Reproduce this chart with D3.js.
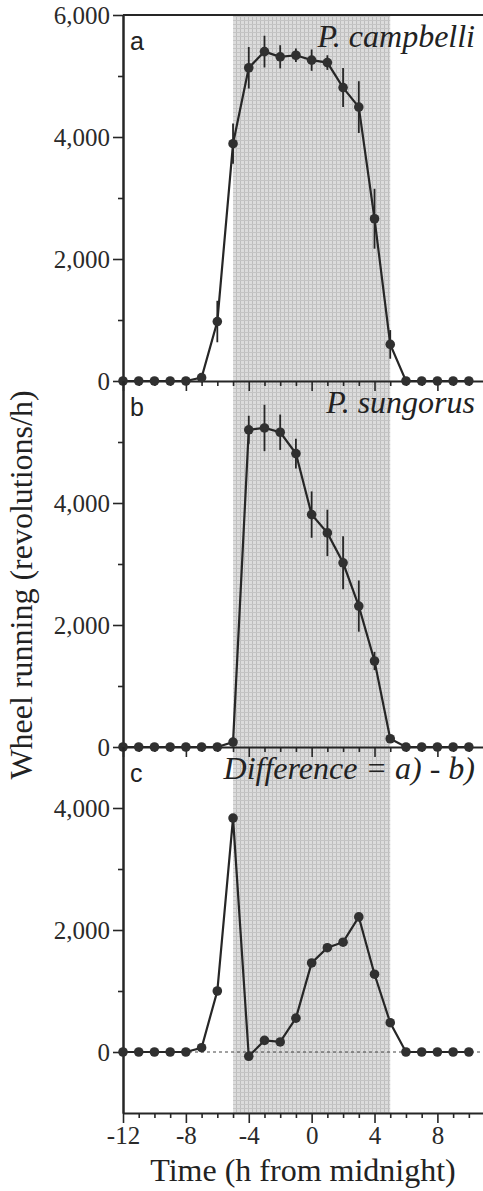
<!DOCTYPE html>
<html>
<head>
<meta charset="utf-8">
<script src="https://cdn.jsdelivr.net/npm/d3@7"></script>
<style>
  body { margin: 0; background: #fff; }
  svg { display: block; }
</style>
</head>
<body>
<svg id="chart"></svg>
<script>
// hours from midnight
const hours = [-12, -11, -10, -9, -8, -7, -6, -5, -4, -3, -2, -1, 0, 1, 2, 3, 4, 5, 6, 7, 8, 9, 10];

// a) P. campbelli
const campbelli = [0, 0, 0, 0, 0, 55, 975, 3890, 5135, 5400, 5315, 5340, 5260, 5220, 4810, 4490, 2660, 600, 0, 0, 0, 0, 0];
const campbelliErr = [0, 0, 0, 0, 0, 40, 340, 330, 340, 260, 190, 110, 175, 120, 320, 425, 490, 235, 0, 0, 0, 0, 0];

// b) P. sungorus
const sungorus = [0, 0, 0, 0, 0, 0, 0, 80, 5200, 5230, 5160, 4810, 3810, 3510, 3020, 2310, 1410, 135, 0, 0, 0, 0, 0];
const sungorusErr = [0, 0, 0, 0, 0, 0, 0, 30, 230, 380, 290, 245, 380, 380, 435, 420, 150, 40, 0, 0, 0, 0, 0];

// c) difference a - b
const difference = [0, 0, 0, 0, 0, 70, 1000, 3835, -70, 190, 165, 555, 1460, 1710, 1800, 2215, 1275, 480, 0, 0, 0, 0, 0];

// x tick labels (bottom panel only)
const xLabels = [-12, -8, -4, 0, 4, 8];

const darkStart = -5, darkEnd = 5;

const panels = [
    { letter: "a", title: "P. campbelli", values: campbelli, errors: campbelliErr, domain: [0, 6000], major: [0, 2000, 4000, 6000], minor: [1000, 3000, 5000] },
    { letter: "b", title: "P. sungorus", values: sungorus, errors: sungorusErr, domain: [0, 6000], major: [0, 2000, 4000], minor: [1000, 3000, 5000] },
    { letter: "c", title: "Difference = a) - b)", values: difference, errors: null, domain: [-1000, 5000], major: [0, 2000, 4000], minor: [1000, 3000] }
];

const width = 483, height = 1191;
const plotTop = 15, panelH = 366;
const plotLeft = 123;
const serif = "'Liberation Serif', 'Times New Roman', serif";

const svg = d3.select("#chart")
    .attr("width", width)
    .attr("height", height);

const x = d3.scaleLinear()
    .domain([-12, 11])
    .range([plotLeft, plotLeft + 23 * 15.72]);

const plotBottom = plotTop + panelH * panels.length;

// crosshatch grey for the dark phase
const defs = svg.append("defs");
const pat = defs.append("pattern")
    .attr("id", "hatch")
    .attr("patternUnits", "userSpaceOnUse")
    .attr("width", 4)
    .attr("height", 4);
pat.append("rect").attr("width", 4).attr("height", 4).attr("fill", "#dcdcdc");
pat.append("rect").attr("x", 0).attr("width", 1).attr("height", 4).attr("fill", "#bdbdbd");
pat.append("rect").attr("y", 0).attr("width", 4).attr("height", 1).attr("fill", "#c4c4c4");

svg.append("rect")
    .attr("x", x(darkStart))
    .attr("y", plotTop)
    .attr("width", x(darkEnd) - x(darkStart))
    .attr("height", plotBottom - plotTop)
    .attr("fill", "url(#hatch)");

const ink = "#262626";

panels.forEach((p, i) => {
    const top = plotTop + panelH * i;
    const y = d3.scaleLinear().domain(p.domain).range([top + panelH, top]);
    const g = svg.append("g");

    if (p.domain[0] < 0) {
        g.append("line")
            .attr("x1", plotLeft).attr("x2", width)
            .attr("y1", y(0)).attr("y2", y(0))
            .attr("stroke", "#444")
            .attr("stroke-width", 1)
            .attr("stroke-dasharray", "3,3");
    }

    // y axis, major and minor ticks
    g.append("g")
        .attr("transform", "translate(" + plotLeft + ",0)")
        .call(d3.axisLeft(y).tickValues(p.major).tickFormat(d3.format(",")).tickSize(10).tickSizeOuter(0).tickPadding(3));
    g.append("g")
        .attr("transform", "translate(" + plotLeft + ",0)")
        .call(d3.axisLeft(y).tickValues(p.minor).tickFormat("").tickSize(5).tickSizeOuter(0));

    // x axis at bottom of the panel
    const last = i === panels.length - 1;
    const xg = g.append("g")
        .attr("transform", "translate(0," + (top + panelH) + ")")
        .call(d3.axisBottom(x)
            .tickValues(hours)
            .tickSize(5)
            .tickSizeOuter(0)
            .tickPadding(8)
            .tickFormat(d => last && xLabels.includes(d) ? d : ""));
    xg.selectAll(".tick line")
        .attr("y2", d => xLabels.includes(d) ? 10 : 5);

    g.selectAll("g").attr("font-family", serif).attr("font-size", 25);
    g.selectAll(".domain").attr("stroke", ink).attr("stroke-width", 2);
    g.selectAll(".tick line").attr("stroke", ink).attr("stroke-width", 1.6);
    g.selectAll(".tick text")
        .attr("fill", "#2a2a2a")
        .style("font-family", serif)
        .style("font-size", "25px");

    // error bars
    if (p.errors) {
        g.selectAll(".err")
            .data(hours.map((h, k) => ({ h, v: p.values[k], e: p.errors[k] })).filter(d => d.e > 0))
            .enter().append("line")
            .attr("x1", d => x(d.h)).attr("x2", d => x(d.h))
            .attr("y1", d => y(d.v - d.e)).attr("y2", d => y(d.v + d.e))
            .attr("stroke", ink)
            .attr("stroke-width", 1.8);
    }

    const line = d3.line()
        .x((d, k) => x(hours[k]))
        .y(d => y(d));

    g.append("path")
        .datum(p.values)
        .attr("d", line)
        .attr("fill", "none")
        .attr("stroke", ink)
        .attr("stroke-width", 2.2);

    g.selectAll(".pt")
        .data(p.values)
        .enter().append("circle")
        .attr("cx", (d, k) => x(hours[k]))
        .attr("cy", d => y(d))
        .attr("r", 4.8)
        .attr("fill", "#303030");

    g.append("text")
        .attr("x", 130)
        .attr("y", top + 35)
        .attr("fill", "#222")
        .style("font-family", "'Liberation Sans', Arial, sans-serif")
        .style("font-size", "25px")
        .text(p.letter);

    g.append("text")
        .attr("x", 475)
        .attr("y", top + 32)
        .attr("text-anchor", "end")
        .attr("fill", "#222")
        .style("font-family", serif)
        .style("font-style", "italic")
        .style("font-size", "32px")
        .text(p.title);
});

// top frame line
svg.append("line")
    .attr("x1", plotLeft).attr("x2", width)
    .attr("y1", plotTop).attr("y2", plotTop)
    .attr("stroke", ink)
    .attr("stroke-width", 2);

// axis titles
svg.append("text")
    .attr("transform", "translate(32," + 585 + ") rotate(-90)")
    .attr("text-anchor", "middle")
    .attr("fill", "#222")
    .style("font-family", serif)
    .style("font-size", "32px")
    .text("Wheel running (revolutions/h)");

svg.append("text")
    .attr("x", 303)
    .attr("y", 1181)
    .attr("text-anchor", "middle")
    .attr("fill", "#222")
    .style("font-family", serif)
    .style("font-size", "32px")
    .text("Time (h from midnight)");
</script>
</body>
</html>
